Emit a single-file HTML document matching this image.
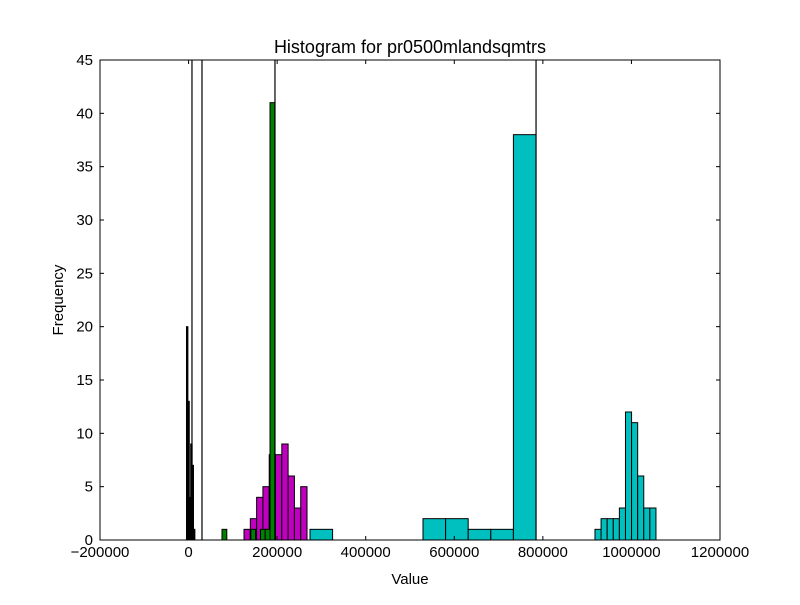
<!DOCTYPE html>
<html><head><meta charset="utf-8"><style>
body{margin:0;background:#fff;}
svg text{font-family:"Liberation Sans",sans-serif;}
</style></head><body>
<svg id="chart" width="800" height="600">
<rect x="0" y="0" width="800" height="600" fill="#fff"/>
<g id="bars"></g>
<g id="axes"></g>
<text x="410" y="53" text-anchor="middle" font-size="18">Histogram for pr0500mlandsqmtrs</text>
<text x="410" y="584" text-anchor="middle" font-size="15">Value</text>
<text x="63" y="300" text-anchor="middle" font-size="15" transform="rotate(-90 63 300)">Frequency</text>
</svg>
<script>
const xTicks=[-200000,0,200000,400000,600000,800000,1000000,1200000];
const yTicks=[0,5,10,15,20,25,30,35,40,45];
const blackStart=-4700, blackWidth=3160, blackCounts=[20,13,4,9,7,1];
const greenStart=75500, greenWidth=10840, greenCounts=[1,0,0,0,0,0,1,0,1,1,41];
const magentaStart=125200, magentaWidth=14226, magentaCounts=[1,2,4,5,8,8,9,6,3,5];
const cyanBigStart=274200, cyanBigWidth=51030, cyanBigCounts=[1,0,0,0,0,2,2,1,1,38];
const cyanSmallStart=917700, cyanSmallWidth=13770, cyanSmallCounts=[1,2,2,2,3,12,11,6,3,3];
const spikeValues=[7700,30300,195100,784600];

const L=100,R=720,T=60,B=540,xmin=-200000,xmax=1200000,ymax=45;
const X=v=>L+(v-xmin)/(xmax-xmin)*(R-L);
const Y=v=>B-Math.min(v,ymax)/ymax*(B-T);
const NS="http://www.w3.org/2000/svg";
const bars=document.getElementById('bars'), axes=document.getElementById('axes');
function mk(tag,attrs,parent){const e=document.createElementNS(NS,tag);for(const k in attrs)e.setAttribute(k,attrs[k]);parent.appendChild(e);return e;}
function series(start,w,counts,color,name){
 counts.forEach((c,i)=>{ if(!c) return;
  const x0=X(start+i*w),x1=X(start+(i+1)*w);
  const r=mk('rect',{x:x0,y:Y(c),width:x1-x0,height:B-Y(c),fill:color,stroke:'#000','stroke-width':1},bars);
  
  
 });
}
series(cyanBigStart,cyanBigWidth,cyanBigCounts,'#00bfbf','cyan');
series(cyanSmallStart,cyanSmallWidth,cyanSmallCounts,'#00bfbf','cyan');
series(magentaStart,magentaWidth,magentaCounts,'#bf00bf','magenta');
series(greenStart,greenWidth,greenCounts,'#008000','green');
series(blackStart,blackWidth,blackCounts,'#000','black');
spikeValues.forEach(v=>{
 const l=mk('line',{x1:X(v),x2:X(v),y1:T,y2:B,stroke:'#000','stroke-width':1.2},bars);
 
 
});
const frame=mk('rect',{x:L,y:T,width:R-L,height:B-T,fill:'none',stroke:'#000','stroke-width':1},axes);


xTicks.forEach(t=>{
 const x=X(t);
 mk('line',{x1:x,x2:x,y1:B,y2:B-4,stroke:'#000'},axes);
 mk('line',{x1:x,x2:x,y1:T,y2:T+4,stroke:'#000'},axes);
 const tx=mk('text',{x:x,y:B+17,'text-anchor':'middle','font-size':15},axes);
 tx.textContent=t<0?'\u2212'+(-t):String(t);
 
 
});
yTicks.forEach(t=>{
 const y=Y(t);
 mk('line',{x1:L,x2:L+4,y1:y,y2:y,stroke:'#000'},axes);
 mk('line',{x1:R,x2:R-4,y1:y,y2:y,stroke:'#000'},axes);
 const tx=mk('text',{x:L-7,y:y+5,'text-anchor':'end','font-size':15},axes);
 tx.textContent=String(t);
 
 
});
</script>
</body></html>
